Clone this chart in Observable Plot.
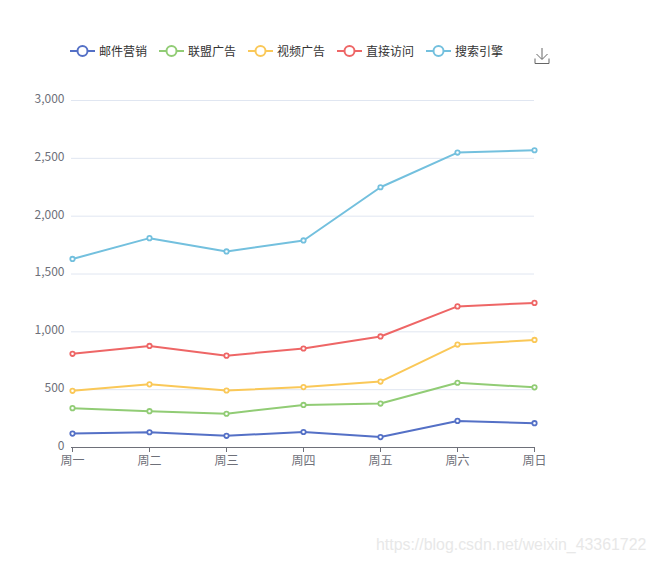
<!DOCTYPE html>
<html><head><meta charset="utf-8">
<script src="https://cdn.jsdelivr.net/npm/d3@7"></script>
<script src="https://cdn.jsdelivr.net/npm/@observablehq/plot@0.6"></script>
<style>
html,body{margin:0;padding:0;background:#fff;font-family:"Noto Sans CJK SC","Noto Sans",sans-serif}
#wrap{position:relative;width:657px;height:564px;overflow:hidden}
#legend{position:absolute;left:70px;top:42px;display:flex;align-items:center;height:18px;font-size:12px;color:#333}
.item{display:flex;align-items:center;margin-right:12px}
.item span{margin-left:4px;line-height:18px;width:48px;white-space:nowrap}
#dl{position:absolute;left:534px;top:47px}
#mark{position:absolute;left:376px;top:536px;font:15.9px "Liberation Sans",sans-serif;color:#e8e8e8;white-space:nowrap}
svg{display:block}
</style></head><body>
<div id="wrap"><div id="chart"></div><div id="legend"></div>
<svg id="dl" width="16" height="18" viewBox="0 0 16 18" fill="none" stroke="#666" stroke-width="1"><path d="M8 1V12M2.5 7L8 12.5L13.5 7M1 11.5V16.5H15V11.5"/></svg>
<div id="mark">https://blog.csdn.net/weixin_43361722</div></div>
<script>
const days = ["周一","周二","周三","周四","周五","周六","周日"];
const seriesNames = ["邮件营销","联盟广告","视频广告","直接访问","搜索引擎"];
const colors = ["#5470c6","#91cc75","#fac858","#ee6666","#73c0de"];
const mail = [120,132,101,134,90,230,210];
const union = [340,314,292,368,380,560,520];
const video = [490,546,493,522,570,890,930];
const direct = [810,878,794,856,960,1220,1250];
const search = [1630,1810,1695,1790,2250,2550,2570];
const yTicks = [0,500,1000,1500,2000,2500,3000];

const table = [mail,union,video,direct,search].flatMap((vals,i)=>
  vals.map((v,j)=>({day:days[j],value:v,series:seriesNames[i]})));

const plot = Plot.plot({
  width:657,height:564,
  marginLeft:71,marginRight:123,marginTop:100,marginBottom:117,
  style:{background:"transparent",fontFamily:'"Noto Sans CJK SC","Noto Sans",sans-serif',fontSize:"12px"},
  x:{type:"point",domain:days,padding:0},
  y:{domain:[0,3000]},
  color:{domain:seriesNames,range:colors},
  marks:[
    Plot.ruleY(yTicks.filter(d=>d>0),{stroke:"#e0e6f1",strokeWidth:1}),
    Plot.ruleY([0],{stroke:"#6e7079",strokeWidth:1}),
    Plot.axisY({ticks:yTicks,tickSize:0,tickPadding:7,label:null,tickFormat:d3.format(","),color:"#6e7079",fontSize:12,dy:-1.5}),
    Plot.axisX({tickSize:5,tickPadding:4,label:null,stroke:"#6e7079",color:"#6e7079",fontSize:12}),
    Plot.line(table,{x:"day",y:"value",stroke:"series",strokeWidth:2,curve:"linear"}),
    Plot.dot(table,{x:"day",y:"value",stroke:"series",fill:"#fff",r:2.2,strokeWidth:1.8})
  ]
});
document.getElementById("chart").appendChild(plot);

const legend = document.getElementById("legend");
seriesNames.forEach((n,i)=>{
  const it=document.createElement("div");it.className="item";
  it.innerHTML=`<svg width="25" height="14"><line x1="0" x2="25" y1="7" y2="7" stroke="${colors[i]}" stroke-width="2"/><circle cx="12.5" cy="7" r="5" fill="#fff" stroke="${colors[i]}" stroke-width="2"/></svg><span>${n}</span>`;
  legend.appendChild(it);
});
</script></body></html>
